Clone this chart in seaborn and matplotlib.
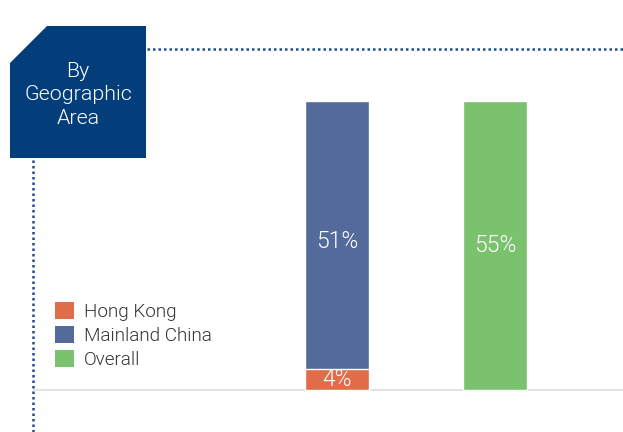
import matplotlib
matplotlib.use("Agg")
import matplotlib.pyplot as plt
from matplotlib import font_manager
from matplotlib.font_manager import FontProperties
from matplotlib.patches import Polygon, Patch
import pandas as pd
import seaborn as sns

# Shares by geographic area (percent)
groups = ["By area", "Overall"]
hong_kong = [4, 0]
mainland_china = [51, 0]
overall = [0, 55]
series_names = ["Hong Kong", "Mainland China", "Overall"]
colors = {"Hong Kong": "#E06C4A", "Mainland China": "#536A9A", "Overall": "#7BC26E"}
title_text = "By\nGeographic\nArea"

sns.set_theme(style="white")
plt.rcParams["font.family"] = ["Liberation Sans", "DejaVu Sans"]


def light_font_path():
    """Find a light-weight sans face among the installed fonts."""
    for fam in ["Roboto", "Lato", "Inter", "Open Sans", "Noto Sans"]:
        for f in font_manager.fontManager.ttflist:
            if f.name == fam and f.style == "normal":
                w = f.weight
                if isinstance(w, str):
                    w = {"light": 300, "ultralight": 200, "thin": 100}.get(w, 400)
                if 250 <= w <= 300:
                    return f.fname
    return None


lp = light_font_path()


def fp(size):
    if lp:
        return FontProperties(fname=lp, size=size)
    return FontProperties(family="Liberation Sans", size=size)


W, H, DPI = 623, 432, 100
fig = plt.figure(figsize=(W / DPI, H / DPI), dpi=DPI)

# Decorative layer in pixel coordinates
deco = fig.add_axes([0, 0, 1, 1])
deco.set_xlim(0, W)
deco.set_ylim(H, 0)
deco.axis("off")
navy = "#033E7A"
deco.add_patch(Polygon([(10, 63), (47, 26), (146, 26), (146, 158), (10, 158)],
                       closed=True, facecolor=navy, edgecolor="none", zorder=3))
deco.text(78, 95, title_text, color="white", fontproperties=fp(15.4), ha="center", va="center",
          linespacing=1.32, zorder=4)
dot = dict(color="#1E4D8A", linewidth=1.8, linestyle=(0, (1, 1.2)), solid_capstyle="butt",
           dash_capstyle="butt", zorder=2)
deco.plot([147, W], [49, 49], **dot)
deco.plot([33, 33], [160, H], **dot)

# Bar axes: zero at y=391 px, 5.273 px per percentage point
px_per = 5.273
ax_bottom = 391
ymax = 60
ax_h = ymax * px_per
ax_left, ax_right = 33, W
ax = fig.add_axes([ax_left / W, (H - ax_bottom) / H, (ax_right - ax_left) / W, ax_h / H])
ax.patch.set_alpha(0)

stack_total = [h + m for h, m in zip(hong_kong, mainland_china)]
df_top = pd.DataFrame({
    "group": groups,
    "value": [stack_total[0], overall[1]],
    "series": ["Mainland China", "Overall"],
})
df_hk = pd.DataFrame({"group": [groups[0]], "value": [hong_kong[0]], "series": ["Hong Kong"]})

bw = 0.405
sns.barplot(data=df_top, x="group", y="value", hue="series", palette=colors, order=groups,
            dodge=False, width=bw, legend=False, ax=ax, zorder=3, saturation=1)
sns.barplot(data=df_hk, x="group", y="value", color=colors["Hong Kong"], order=groups,
            width=bw, ax=ax, zorder=4, saturation=1)

ax.axhline(0, color="#E3E3E3", linewidth=2.2, zorder=2)
ax.set_xlim(-304 / 158, (W - 495) / 158 + 1)
ax.set_ylim(-0.2, ymax)
ax.axis("off")

lab = dict(color="white", ha="center", va="center", zorder=5, fontproperties=fp(16.5))
ax.text(0, hong_kong[0] + mainland_china[0] / 2 - 1.2, f"{mainland_china[0]}%", **lab)
ax.text(0, hong_kong[0] / 2, f"{hong_kong[0]}%", **lab)
ax.text(1, overall[1] / 2, f"{overall[1]}%", **lab)

handles = [Patch(facecolor=colors[s], edgecolor="none") for s in series_names]
leg = fig.legend(handles, series_names, loc="upper left",
                 bbox_to_anchor=(55 / W, 1 - 302 / H), frameon=False, prop=fp(13.6),
                 handlelength=1.0, handleheight=1.0, handletextpad=0.55,
                 labelspacing=0.26, borderpad=0, borderaxespad=0)
for t in leg.get_texts():
    t.set_color("#333333")

fig.savefig("out.png", dpi=DPI)
